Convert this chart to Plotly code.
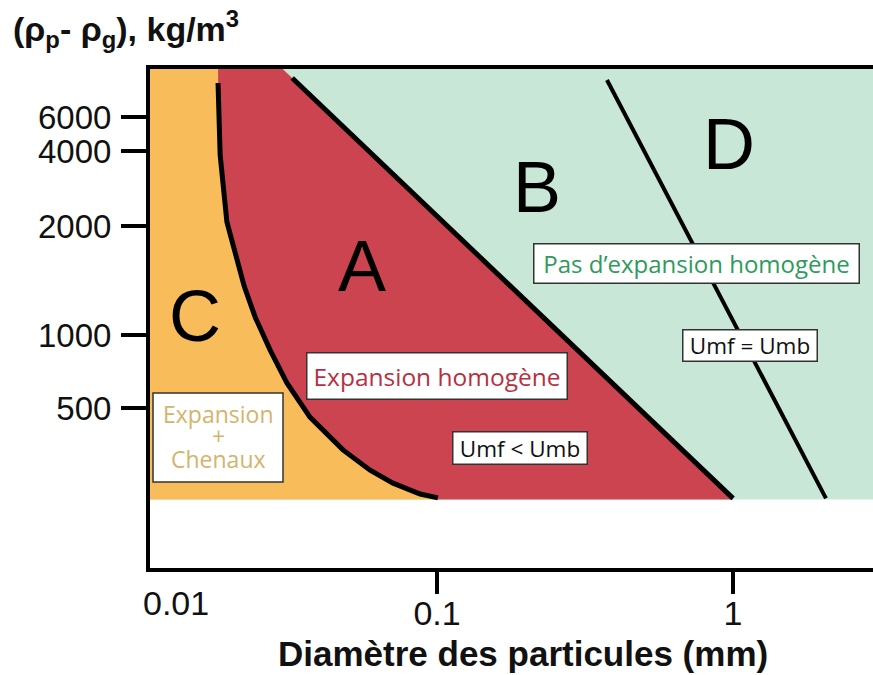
import numpy as np
import plotly.graph_objects as go

# ---------------- data ----------------
# x axis: particle diameter (mm), logarithmic
X_RANGE_MM = [0.01072, 2.97]
X_TICK_VALUES = [0.1, 1]
X_TICK_LABELS = ["0.1", "1"]
X_FIRST_LABEL = "0.01"

# y axis: density difference (kg/m3) on the hand-drawn (non-uniform) scale
Y_TICK_VALUES = [500, 1000, 2000, 4000, 6000]
Y_TICK_LABELS = ["500", "1000", "2000", "4000", "6000"]
Y_TICK_AXIS_POS = [0.3206, 0.4669, 0.6854, 0.8357, 0.9038]

RHO_FLOOR = 210      # lower limit of the coloured zones
RHO_CEIL = 12000     # beyond top of the frame

# boundary C / A (curve)
CA_DIAM = [0.0182, 0.0185, 0.0195, 0.0208, 0.0223, 0.0243, 0.0273, 0.0311,
           0.0372, 0.0481, 0.0594, 0.0710, 0.0877, 0.1007]
CA_RHO = [9000, 3850, 2075, 1660, 1365, 1120, 867, 634,
          459, 336, 277, 245, 221, 213]

# boundary A / B (straight)
AB_DIAM = [0.0324, 1.0]
AB_RHO = [9550, 212]

# boundary B / D (straight)
BD_DIAM = [0.375, 2.06]
BD_RHO = [9330, 212]

GROUP_LETTERS = ["A", "B", "C", "D"]

# ---------------- scale helper ----------------
_lt = np.log10(np.array(Y_TICK_VALUES, float))
_p = np.array(Y_TICK_AXIS_POS, float)
_s0 = (_p[1] - _p[0]) / (_lt[1] - _lt[0])
_s1 = (_p[-1] - _p[-2]) / (_lt[-1] - _lt[-2])


def rho_to_axis(rho):
    l = np.log10(np.atleast_1d(np.asarray(rho, float)))
    out = np.interp(l, _lt, _p)
    out = np.where(l < _lt[0], _p[0] + (l - _lt[0]) * _s0, out)
    out = np.where(l > _lt[-1], _p[-1] + (l - _lt[-1]) * _s1, out)
    return out


u_floor = float(rho_to_axis(RHO_FLOOR)[0])
u_ceil = float(rho_to_axis(RHO_CEIL)[0])
ca_u = list(rho_to_axis(CA_RHO))
ab_u = list(rho_to_axis(AB_RHO))
bd_u = list(rho_to_axis(BD_RHO))

# extend A/B boundary up to the top of the frame (for the fill)
lab = np.log10(AB_DIAM)
ab_top_d = 10 ** (lab[0] + (u_ceil - ab_u[0]) * (lab[1] - lab[0]) / (ab_u[1] - ab_u[0]))

xmin, xmax = X_RANGE_MM[0] * 0.9, X_RANGE_MM[1] * 1.1

ORANGE = "#F8BC5A"
RED = "#CC4450"
GREEN = "#C9E7D7"

fig = go.Figure()

# zone B/D (green)
fig.add_trace(go.Scatter(x=[xmin, xmin, xmax, xmax], y=[u_floor, u_ceil, u_ceil, u_floor],
                         fill="toself", fillcolor=GREEN, mode="none", hoverinfo="skip"))
# zone A (red)
fig.add_trace(go.Scatter(
    x=[CA_DIAM[0]] + CA_DIAM + [CA_DIAM[-1], AB_DIAM[1], AB_DIAM[0], ab_top_d],
    y=[u_ceil] + ca_u + [u_floor, u_floor, ab_u[0], u_ceil],
    fill="toself", fillcolor=RED, mode="none", hoverinfo="skip"))
# zone C (orange)
fig.add_trace(go.Scatter(
    x=[xmin, xmin, CA_DIAM[0]] + CA_DIAM + [CA_DIAM[-1]],
    y=[u_floor, u_ceil, u_ceil] + ca_u + [u_floor],
    fill="toself", fillcolor=ORANGE, mode="none", hoverinfo="skip"))

# boundaries
fig.add_trace(go.Scatter(x=CA_DIAM, y=ca_u, mode="lines",
                         line=dict(color="black", width=5), hoverinfo="skip"))
fig.add_trace(go.Scatter(x=AB_DIAM, y=ab_u, mode="lines",
                         line=dict(color="black", width=5), hoverinfo="skip"))
fig.add_trace(go.Scatter(x=BD_DIAM, y=bd_u, mode="lines",
                         line=dict(color="black", width=4), hoverinfo="skip"))

L, T, B, W, H = 150, 69, 107, 873, 675
PW, PH = W - L, H - T - B


def px(xp):
    return (xp - L) / PW


def py(yp):
    return (T + PH - yp) / PH


ann = []
# group letters
for letter, (cx, cy) in zip(GROUP_LETTERS, [(362, 266), (537, 187), (195, 316), (729, 144)]):
    ann.append(dict(text=letter, x=px(cx), y=py(cy), xref="paper", yref="paper",
                    showarrow=False, xanchor="center", yanchor="middle",
                    font=dict(family="Liberation Sans, Arial", size=72, color="black")))

BOX_FONT = "Open Sans, Noto Sans"
boxes = [
    ("Pas d\u2019expansion homogène", 696, 263, 326, 40, "#2E9A5C", 24),
    ("Umf = Umb", 750, 345, 135, 32, "#111111", 22.5),
    ("Expansion homogène", 437, 376, 261, 47, "#B8303F", 24.5),
    ("Umf &lt; Umb", 520, 448, 135, 33, "#111111", 22.5),
]
for txt, cx, cy, w, h, col, fs in boxes:
    ann.append(dict(text=txt, x=px(cx), y=py(cy), xref="paper", yref="paper",
                    showarrow=False, xanchor="center", yanchor="middle",
                    width=w - 2, height=h - 2, borderpad=0, bgcolor="white",
                    bordercolor="#333333", borderwidth=1.5,
                    font=dict(family=BOX_FONT, size=fs, color=col)))

# "Expansion + Chenaux" box
shapes = [dict(type="rect", xref="paper", yref="paper", x0=px(153), x1=px(283),
               y0=py(482), y1=py(393), fillcolor="white",
               line=dict(color="#333333", width=1.5), layer="above")]
for txt, cy in [("Expansion", 414), ("+", 436), ("Chenaux", 459)]:
    ann.append(dict(text=txt, x=px(218), y=py(cy), xref="paper", yref="paper",
                    showarrow=False, xanchor="center", yanchor="middle",
                    font=dict(family=BOX_FONT, size=23, color="#D4B46C")))

# first x label (no tick) and axis titles
ann.append(dict(text=X_FIRST_LABEL, x=px(176), y=py(603), xref="paper", yref="paper",
                showarrow=False, xanchor="center", yanchor="middle",
                font=dict(family="Liberation Sans, Arial", size=34, color="#111")))
ann.append(dict(text="<b>Diamètre des particules (mm)</b>", x=px(523), y=py(653),
                xref="paper", yref="paper", showarrow=False,
                xanchor="center", yanchor="middle",
                font=dict(family="Liberation Sans, Arial", size=35, color="#111")))
ann.append(dict(text="<b>(ρ<sub>p</sub>- ρ<sub>g</sub>), kg/m<sup>3</sup></b>",
                x=px(11), y=py(29), xref="paper", yref="paper", showarrow=False,
                xanchor="left", yanchor="middle",
                font=dict(family="Liberation Sans, Arial", size=34, color="#111")))

fig.update_layout(
    width=W, height=H,
    margin=dict(l=L, r=0, t=T, b=B, autoexpand=False),
    paper_bgcolor="white", plot_bgcolor="white",
    showlegend=False,
    annotations=ann,
    shapes=shapes,
    xaxis=dict(type="log", range=[np.log10(X_RANGE_MM[0]), np.log10(X_RANGE_MM[1])],
               tickvals=X_TICK_VALUES, ticktext=X_TICK_LABELS, automargin=False,
               ticks="outside", ticklen=22, tickwidth=4, tickcolor="black",
               showline=True, linewidth=4, linecolor="black", mirror=True,
               showgrid=False, zeroline=False, ticklabelstandoff=-10,
               tickfont=dict(family="Liberation Sans, Arial", size=34, color="#111")),
    yaxis=dict(range=[0, 1], tickvals=Y_TICK_AXIS_POS, ticktext=Y_TICK_LABELS,
               automargin=False,
               ticks="outside", ticklen=25, tickwidth=4, tickcolor="black",
               showline=True, linewidth=4, linecolor="black", mirror=False,
               showgrid=False, zeroline=False, ticklabelstandoff=3,
               tickfont=dict(family="Liberation Sans, Arial", size=33, color="#111")),
)

fig.write_html("out.html",
               config={"displayModeBar": False},
               post_script="document.body.style.margin='0';"
                           "document.body.style.overflow='hidden';")
